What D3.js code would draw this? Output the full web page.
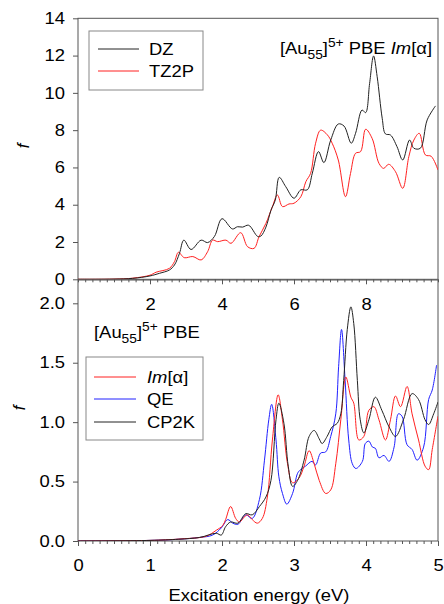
<!DOCTYPE html>
<html>
<head>
<meta charset="utf-8">
<script src="https://cdn.jsdelivr.net/npm/d3@7"></script>
<style>
  body { margin: 0; background: #fff; }
  svg { display: block; font-family: 'Liberation Sans', Arial, sans-serif; }
</style>
</head>
<body>
<div id="chart"></div>
<script>
// top panel: [x (eV), f]
const dzValues = [[0, 0], [1.0, 0.01], [1.52, 0.05], [2.0, 0.18], [2.26, 0.32], [2.54, 0.5], [2.68, 0.77], [2.82, 1.4], [2.94, 2.1], [3.14, 1.6], [3.42, 2.1], [3.6, 1.97], [3.79, 2.3], [4.0, 3.25], [4.29, 2.7], [4.43, 2.82], [4.57, 2.8], [4.74, 2.9], [4.99, 2.3], [5.08, 2.32], [5.22, 2.8], [5.36, 3.7], [5.48, 4.25], [5.59, 5.47], [5.77, 4.97], [6.0, 4.35], [6.19, 4.8], [6.37, 4.8], [6.51, 5.7], [6.68, 6.85], [6.83, 6.26], [7.02, 7.47], [7.23, 8.33], [7.39, 8.22], [7.59, 7.3], [7.71, 7.83], [7.89, 9.08], [7.99, 8.94], [8.1, 10.5], [8.21, 11.98], [8.31, 10.87], [8.45, 8.64], [8.54, 7.8], [8.68, 7.74], [8.86, 7.12], [9.02, 6.4], [9.21, 7.47], [9.33, 7.03], [9.51, 7.03], [9.7, 8.55], [9.93, 9.3]]
const tz2pValues = [[0, 0], [1.0, 0.01], [1.52, 0.06], [2.0, 0.22], [2.17, 0.38], [2.54, 0.59], [2.68, 0.95], [2.79, 1.45], [2.95, 1.16], [3.19, 1.22], [3.42, 1.04], [3.6, 1.48], [3.74, 2.1], [3.88, 2.02], [4.11, 2.1], [4.25, 1.93], [4.52, 2.5], [4.71, 1.75], [4.89, 1.66], [5.03, 2.29], [5.22, 3.0], [5.4, 3.9], [5.54, 4.52], [5.68, 3.9], [5.86, 4.04], [6.0, 4.08], [6.19, 4.43], [6.33, 5.24], [6.46, 5.68], [6.6, 7.3], [6.74, 8.0], [6.93, 7.74], [7.06, 7.3], [7.23, 6.4], [7.43, 4.43], [7.57, 5.68], [7.71, 6.76], [7.85, 6.85], [7.99, 8.05], [8.17, 7.56], [8.36, 6.22], [8.49, 5.95], [8.63, 6.17], [8.82, 5.77], [9.02, 4.88], [9.19, 6.58], [9.33, 7.47], [9.48, 7.83], [9.65, 6.67], [9.81, 6.6], [10.0, 5.86]]

// bottom panel
const imAlphaValues = [[0, 0], [1.0, 0.005], [1.22, 0.01], [1.5, 0.02], [1.78, 0.04], [1.92, 0.09], [2.01, 0.13], [2.05, 0.18], [2.12, 0.29], [2.19, 0.19], [2.24, 0.16], [2.35, 0.22], [2.42, 0.18], [2.49, 0.15], [2.56, 0.19], [2.63, 0.37], [2.7, 0.85], [2.78, 1.23], [2.84, 1.02], [2.91, 0.65], [2.98, 0.49], [3.07, 0.53], [3.14, 0.63], [3.21, 0.76], [3.28, 0.65], [3.35, 0.51], [3.44, 0.4], [3.51, 0.43], [3.58, 0.65], [3.65, 1.02], [3.72, 1.38], [3.79, 1.21], [3.83, 1.16], [3.9, 0.85], [3.97, 0.88], [4.04, 1.1], [4.11, 1.13], [4.18, 1.02], [4.27, 0.85], [4.34, 1.02], [4.41, 1.22], [4.48, 1.13], [4.57, 1.3], [4.64, 1.07], [4.73, 0.85], [4.82, 0.63], [4.87, 0.6], [4.92, 0.77], [5.0, 1.05]]
const qeValues = [[0, 0], [1.0, 0.005], [1.4, 0.015], [1.69, 0.03], [1.87, 0.05], [1.99, 0.11], [2.08, 0.18], [2.15, 0.15], [2.22, 0.14], [2.33, 0.22], [2.42, 0.19], [2.52, 0.35], [2.59, 0.68], [2.65, 1.02], [2.69, 1.15], [2.75, 0.85], [2.79, 0.54], [2.84, 0.4], [2.9, 0.31], [2.98, 0.4], [3.05, 0.57], [3.09, 0.6], [3.16, 0.63], [3.25, 0.67], [3.3, 0.64], [3.37, 0.74], [3.44, 0.75], [3.51, 0.88], [3.58, 1.07], [3.62, 1.47], [3.66, 1.78], [3.71, 1.35], [3.76, 0.85], [3.81, 0.65], [3.86, 0.61], [3.95, 0.67], [3.99, 0.82], [4.04, 0.84], [4.09, 0.79], [4.13, 0.78], [4.18, 0.7], [4.25, 0.72], [4.32, 0.67], [4.39, 0.79], [4.45, 1.07], [4.5, 1.05], [4.57, 0.81], [4.64, 0.77], [4.71, 0.68], [4.8, 0.79], [4.87, 1.19], [4.92, 1.27], [4.98, 1.48]]
const cp2kValues = [[0, 0], [1.0, 0.005], [1.4, 0.015], [1.69, 0.03], [1.92, 0.065], [1.99, 0.05], [2.05, 0.12], [2.12, 0.16], [2.22, 0.15], [2.33, 0.23], [2.42, 0.22], [2.52, 0.29], [2.61, 0.37], [2.68, 0.51], [2.75, 1.02], [2.79, 1.16], [2.86, 0.99], [2.92, 0.63], [2.98, 0.46], [3.05, 0.51], [3.14, 0.68], [3.21, 0.88], [3.28, 0.93], [3.35, 0.86], [3.39, 0.82], [3.46, 0.88], [3.53, 0.96], [3.6, 0.99], [3.65, 1.07], [3.69, 1.35], [3.74, 1.78], [3.79, 1.97], [3.83, 1.83], [3.88, 1.35], [3.92, 1.02], [3.97, 0.91], [4.04, 1.02], [4.13, 1.21], [4.22, 1.1], [4.32, 0.96], [4.41, 0.88], [4.52, 1.02], [4.64, 1.24], [4.73, 1.19], [4.82, 1.02], [4.87, 0.98], [4.94, 1.07], [5.0, 1.17]]

const topYTicks = [0, 2, 4, 6, 8, 10, 12, 14]
const topXTicks = [2, 4, 6, 8]
const botYTicks = [0, 0.5, 1.0, 1.5, 2.0]
const botXTicks = [0, 1, 2, 3, 4, 5]

const width = 444
const height = 604
const left = 78
const right = 438
const sx = 1.15 // the source image is stretched sideways

const svg = d3.select('#chart').append('svg')
  .attr('width', width)
  .attr('height', height)

const xTop = d3.scaleLinear().domain([0, 10]).range([left, right])
const yTop = d3.scaleLinear().domain([0, 14]).range([279.3, 18.3])
const xBot = d3.scaleLinear().domain([0, 5]).range([left, right])
const yBot = d3.scaleLinear().domain([0, 2]).range([541, 303.3])

const axisColor = '#555'

// text placed with horizontal stretch
const text = (g, x, y, anchor) => g.append('text')
  .attr('transform', 'translate(' + [x, y] + ') scale(' + sx + ',1)')
  .attr('text-anchor', anchor || 'start')
  .attr('font-size', 16)
  .attr('fill', '#000')

const styleAxis = (g) => {
  g.select('.domain').remove()
  g.selectAll('line').attr('stroke', axisColor)
  g.selectAll('text').attr('font-size', 16).attr('fill', '#000')
    .attr('font-family', "'Liberation Sans', Arial, sans-serif")
}

function drawPanel ({ x, y, boxTop, xTicks, xMinor, yTicks, yFormat, xLabelY }) {
  const g = svg.append('g')
  const y0 = y.range()[0]

  // frame
  g.append('rect')
    .attr('x', left).attr('y', boxTop)
    .attr('width', right - left).attr('height', y0 - boxTop)
    .attr('fill', 'none').attr('stroke', axisColor).attr('stroke-width', 1)

  // minor x ticks
  g.append('g')
    .attr('transform', 'translate(0,' + y0 + ')')
    .call(d3.axisBottom(x).tickValues(xMinor).tickSize(3).tickFormat(''))
    .call(styleAxis)

  // major x ticks
  const xa = g.append('g')
    .attr('transform', 'translate(0,' + y0 + ')')
    .call(d3.axisBottom(x).tickValues(xTicks).tickSize(5).tickFormat(d3.format('d')))
    .call(styleAxis)
  xa.selectAll('text')
    .attr('y', xLabelY).attr('dy', 0)
    .attr('transform', 'scale(' + sx + ',1)')

  // y ticks
  const ya = g.append('g')
    .attr('transform', 'translate(' + left + ',0)')
    .call(d3.axisLeft(y).tickValues(yTicks).tickSize(5).tickFormat(yFormat))
    .call(styleAxis)
  ya.selectAll('text')
    .attr('x', -13 / sx)
    .attr('transform', 'scale(' + sx + ',1)')

  return g
}

const topPanel = drawPanel({
  x: xTop,
  y: yTop,
  boxTop: 18.3,
  xTicks: topXTicks,
  xMinor: d3.range(0, 10.001, 0.2),
  yTicks: topYTicks,
  yFormat: d3.format('d'),
  xLabelY: 31
})

const botPanel = drawPanel({
  x: xBot,
  y: yBot,
  boxTop: 280,
  xTicks: botXTicks,
  xMinor: d3.range(0, 5.001, 0.1),
  yTicks: botYTicks,
  yFormat: d3.format('.1f'),
  xLabelY: 30
})

// clip paths
const defs = svg.append('defs')
defs.append('clipPath').attr('id', 'clipTop')
  .append('rect').attr('x', left).attr('y', 18.3).attr('width', right - left).attr('height', 279.3 - 18.3)
defs.append('clipPath').attr('id', 'clipBot')
  .append('rect').attr('x', left).attr('y', 280).attr('width', right - left).attr('height', 541 - 280)

const lineTop = d3.line().x((d) => xTop(d[0])).y((d) => yTop(d[1])).curve(d3.curveCatmullRom.alpha(0.5))
const lineBot = d3.line().x((d) => xBot(d[0])).y((d) => yBot(d[1])).curve(d3.curveCatmullRom.alpha(0.5))

const topSeries = [
  { key: 'TZ2P', values: tz2pValues, color: '#ff2020' },
  { key: 'DZ', values: dzValues, color: '#222' }
]
const botSeries = [
  { key: 'QE', values: qeValues, color: '#2020ff' },
  { key: 'Im', values: imAlphaValues, color: '#ff2020' },
  { key: 'CP2K', values: cp2kValues, color: '#222' }
]

topPanel.append('g').attr('clip-path', 'url(#clipTop)')
  .selectAll('path').data(topSeries).enter()
  .append('path')
  .attr('d', (d) => lineTop(d.values))
  .attr('fill', 'none').attr('stroke', (d) => d.color).attr('stroke-width', 1)

botPanel.append('g').attr('clip-path', 'url(#clipBot)')
  .selectAll('path').data(botSeries).enter()
  .append('path')
  .attr('d', (d) => lineBot(d.values))
  .attr('fill', 'none').attr('stroke', (d) => d.color).attr('stroke-width', 1)

// titles
const addTitle = (g, x, y, anchor, withIm) => {
  const t = text(g, x, y, anchor)
  t.append('tspan').text('[Au')
  t.append('tspan').attr('font-size', 12).attr('dy', 5).text('55')
  t.append('tspan').attr('dy', -5).text(']')
  t.append('tspan').attr('font-size', 12).attr('dy', -7).text('5+')
  t.append('tspan').attr('dy', 7).text(withIm ? ' PBE ' : ' PBE')
  if (withIm) {
    t.append('tspan').attr('font-style', 'italic').text('Im')
    t.append('tspan').text('[α]')
  }
}
addTitle(topPanel, 432, 54, 'end', true)
addTitle(botPanel, 94, 338, 'start', false)

// legends
const legend = (g, box, lx, tx, items) => {
  g.append('rect')
    .attr('x', box[0]).attr('y', box[1])
    .attr('width', box[2] - box[0]).attr('height', box[3] - box[1])
    .attr('fill', '#fff').attr('stroke', '#888').attr('stroke-width', 1)
  items.forEach((d) => {
    g.append('line')
      .attr('x1', lx[0]).attr('x2', lx[1]).attr('y1', d.y).attr('y2', d.y)
      .attr('stroke', d.color).attr('stroke-width', 1)
    const t = text(g, tx, d.y + 6, 'start')
    if (d.italic) {
      t.append('tspan').attr('font-style', 'italic').text(d.italic)
    }
    t.append('tspan').text(d.label)
  })
}
legend(topPanel, [89, 31, 203, 90], [98, 139], 149, [
  { y: 49, color: '#222', label: 'DZ' },
  { y: 71, color: '#ff2020', label: 'TZ2P' }
])
legend(botPanel, [86, 357, 203, 440], [94, 136], 147, [
  { y: 377, color: '#ff2020', italic: 'Im', label: '[α]' },
  { y: 399, color: '#2020ff', label: 'QE' },
  { y: 422, color: '#222', label: 'CP2K' }
])

// axis titles
svg.append('text')
  .attr('transform', 'translate(29,146) rotate(-90)')
  .attr('text-anchor', 'middle')
  .attr('font-size', 17).attr('font-style', 'italic')
  .text('f')
svg.append('text')
  .attr('transform', 'translate(25,408) rotate(-90)')
  .attr('text-anchor', 'middle')
  .attr('font-size', 17).attr('font-style', 'italic')
  .text('f')

text(svg, 259, 601, 'middle')
  .attr('font-size', 16)
  .text('Excitation energy (eV)')
</script>
</body>
</html>
